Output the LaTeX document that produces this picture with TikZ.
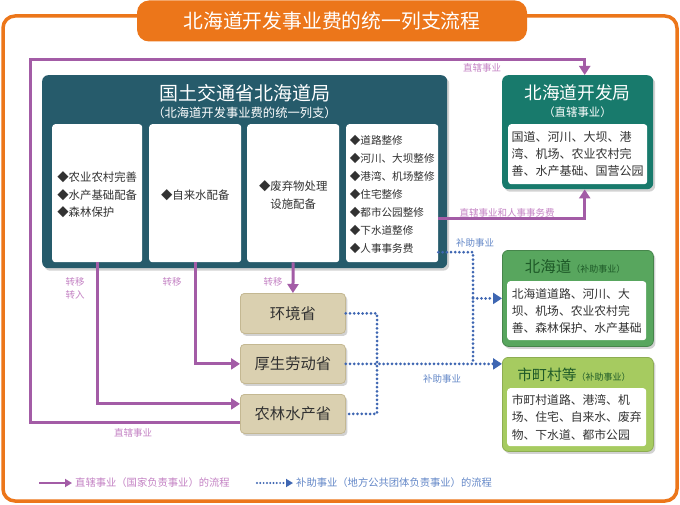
\documentclass[tikz,border=0pt]{standalone}
\usepackage{fontspec}
\setmainfont{Noto Sans CJK SC}
\usetikzlibrary{arrows.meta,shadows,calc}
\definecolor{orng}{RGB}{236,118,26}
\definecolor{mainteal}{RGB}{38,91,107}
\definecolor{kaiteal}{RGB}{24,122,108}
\definecolor{hkgreen}{RGB}{88,166,94}
\definecolor{scgreen}{RGB}{166,203,96}
\definecolor{tanfill}{RGB}{218,208,176}
\definecolor{tanb}{RGB}{196,184,146}
\definecolor{purp}{RGB}{163,92,166}
\definecolor{purtxt}{RGB}{196,130,196}
\definecolor{blu}{RGB}{62,102,178}
\definecolor{blutxt}{RGB}{100,136,200}
\definecolor{dgreen}{RGB}{30,90,40}
\definecolor{txtgray}{RGB}{50,50,50}
\newcommand\myfs[2]{\fontsize{#1}{#2}\selectfont}
\begin{document}
\begin{tikzpicture}[x=1pt,y=-1pt,
 shadowed/.style={drop shadow={opacity=0.35,shadow xshift=2pt,shadow yshift=-2.5pt}},
 bigbox/.style={rounded corners=6pt, shadowed, anchor=north west, inner sep=0pt},
 whitebox/.style={fill=white, rounded corners=3pt, inner sep=0pt, anchor=north west},
 agency/.style={fill=tanfill, draw=tanb, line width=0.8pt, rounded corners=4pt, anchor=north west,
   minimum width=105pt, inner sep=0pt, shadowed, text=txtgray, font=\myfs{15.3}{18}},
 boxtext/.style={align=left, text=txtgray, inner sep=0pt},
 purline/.style={draw=purp, line width=3pt},
 purarrow/.style={purline, -{Triangle[width=11pt,length=9pt]}},
 bluline/.style={draw=blu, line width=3pt, line cap=round, dash pattern=on 0pt off 4.2pt},
 bluarrow/.style={bluline, -{Triangle[width=11pt,length=9pt]}},
 purlbl/.style={text=purtxt, font=\myfs{9.5}{13}, align=center, inner sep=0pt},
 blulbl/.style={text=blutxt, font=\myfs{9.5}{13}, align=center, inner sep=0pt}
]
\useasboundingbox (0,0) rectangle (680,505);
\fill[white] (0,0) rectangle (680,505);

% frame and title
\draw[orng, line width=3.5pt, rounded corners=12pt] (3,16) rectangle (677,501);
\node[fill=orng, rounded corners=12pt, minimum width=390pt, minimum height=41pt, inner sep=0pt,
  text=white, font=\myfs{19.8}{24}] (title) at (332,21) {北海道开发事业费的统一列支流程};

% main box
\node[bigbox, fill=mainteal, minimum width=405pt, minimum height=193pt] (mlit) at (42,75) {};
\node[text=white, font=\myfs{19}{22}, inner sep=0pt] (mlitt) at (244.5,93) {国土交通省北海道局};
\node[text=white, font=\myfs{12.3}{14}, inner sep=0pt] (mlits) at (244.5,113) {（北海道开发事业费的统一列支）};

\node[whitebox, minimum width=90pt, minimum height=138pt] (b1) at (52,124) {};
\node[whitebox, minimum width=92pt, minimum height=138pt] (b2) at (149,124) {};
\node[whitebox, minimum width=92pt, minimum height=138pt] (b3) at (247,124) {};
\node[whitebox, minimum width=92pt, minimum height=138pt] (b4) at (346,124) {};

\node[boxtext, font=\myfs{11.4}{17.5}] (b1t) at ($(b1)+(0,1.5)$) {◆农业农村完善\\◆水产基础配备\\◆森林保护};
\node[boxtext, font=\myfs{11.4}{17.5}] (b2t) at ($(b2)+(0,2)$) {◆自来水配备};
\node[boxtext, font=\myfs{11.4}{18}] (b3t) at ($(b3)+(0,2)$) {◆废弃物处理\\\phantom{◆}设施配备};
\node[boxtext, font=\myfs{10.6}{18}] (b4t) at ($(b4)+(0,1)$) {◆道路整修\\◆河川、大坝整修\\◆港湾、机场整修\\◆住宅整修\\◆都市公园整修\\◆下水道整修\\◆人事事务费};

% Hokkaido development bureau
\node[bigbox, fill=kaiteal, minimum width=151pt, minimum height=114pt] (kai) at (502,75) {};
\node[text=white, font=\myfs{17.7}{20}, inner sep=0pt] (kait) at (577.5,93) {北海道开发局};
\node[text=white, font=\myfs{11.4}{14}, inner sep=0pt] (kais) at (577.5,112) {（直辖事业）};
\node[whitebox, minimum width=139pt, minimum height=60pt] (kaiw) at (508,124) {};
\node[boxtext, font=\myfs{12}{17}] (kaiwt) at (kaiw) {国道、河川、大坝、港\\湾、机场、农业农村完\\善、水产基础、国营公园};

% Hokkaido (subsidy)
\node[bigbox, fill=hkgreen, draw=hkgreen!80!black, line width=0.8pt, minimum width=151pt, minimum height=96pt] (hk) at (502,250) {};
\node[text=dgreen, inner sep=0pt] (hkt) at (575,267) {\myfs{15.5}{18}北海道\myfs{9}{18}（补助事业）};
\node[whitebox, minimum width=139pt, minimum height=59pt] (hkw) at (507,281) {};
\node[boxtext, font=\myfs{11.8}{17}] (hkwt) at (hkw) {北海道道路、河川、大\\坝、机场、农业农村完\\善、森林保护、水产基础};

% municipalities
\node[bigbox, fill=scgreen, draw=scgreen!85!black, line width=0.8pt, minimum width=151pt, minimum height=94pt] (sc) at (502,357) {};
\node[text=dgreen, inner sep=0pt] (sct) at (574,375) {\myfs{14.8}{18}市町村等\myfs{9}{18}（补助事业）};
\node[whitebox, minimum width=139pt, minimum height=58pt] (scw) at (507,388) {};
\node[boxtext, font=\myfs{11.8}{17.5}] (scwt) at (scw) {市町村道路、港湾、机\\场、住宅、自来水、废弃\\物、下水道、都市公园};

% ministries
\node[agency, minimum height=40pt] (env) at (240,293) {环境省};
\node[agency, minimum height=39pt] (kos) at (240,344) {厚生劳动省};
\node[agency, minimum height=39pt] (nl) at (240,394) {农林水产省};

% purple connectors
\coordinate (tl) at (30,60);
\draw[purarrow] ([yshift=-8.5pt]nl.west) -| (tl) -| ([xshift=7pt]kai.north);
\draw[purarrow] (b1.south) |- ([yshift=10pt]nl.west);
\draw[purarrow] (b2.south) |- (kos.west);
\draw[purarrow] (b3.south) -- (env.north);
\draw[purarrow] ([yshift=-25pt]b4.east) -| ([xshift=7pt]kai.south);

% blue connectors
\coordinate (bj) at (473,363.5);
\coordinate (vj) at (377,363.5);
\draw[bluline] ([yshift=-59pt]b4.east) -| (bj);
\draw[bluarrow] (hk.west -| bj) -- (hk.west);
\draw[bluarrow] (kos.east) -- (kos.east -| sc.west);
\draw[bluline] (env.east) -| (vj) |- (nl.east);

% labels
\node[purlbl] (l1) at (482,68) {直辖事业};
\node[purlbl] (l2) at (507,213) {直辖事业和人事事务费};
\node[purlbl, font=\myfs{9.5}{13}] (l3) at (75,288.5) {转移\\转入};
\node[purlbl] (l4) at (172,282) {转移};
\node[purlbl] (l5) at (273,282) {转移};
\node[purlbl] (l6) at (133,433) {直辖事业};
\node[blulbl] (l7) at (475,243) {补助事业};
\node[blulbl] (l8) at (442,379) {补助事业};

% legend
\node[purlbl, anchor=west, font=\myfs{10.3}{13}] (leg1) at (75,483) {直辖事业（国家负责事业）的流程};
\coordinate (leg1s) at (39,483);
\draw[purline, line width=2.5pt, -{Triangle[width=8pt,length=7pt]}] (leg1s) -- ([xshift=-3pt]leg1.west);
\node[blulbl, anchor=west, font=\myfs{10.3}{13}] (leg2) at (296,483) {补助事业（地方公共团体负责事业）的流程};
\coordinate (leg2s) at (257,483);
\draw[bluline, line width=2.2pt, dash pattern=on 0pt off 3.3pt, -{Triangle[width=8pt,length=7pt]}] (leg2s) -- ([xshift=-3pt]leg2.west);
\end{tikzpicture}
\end{document}
